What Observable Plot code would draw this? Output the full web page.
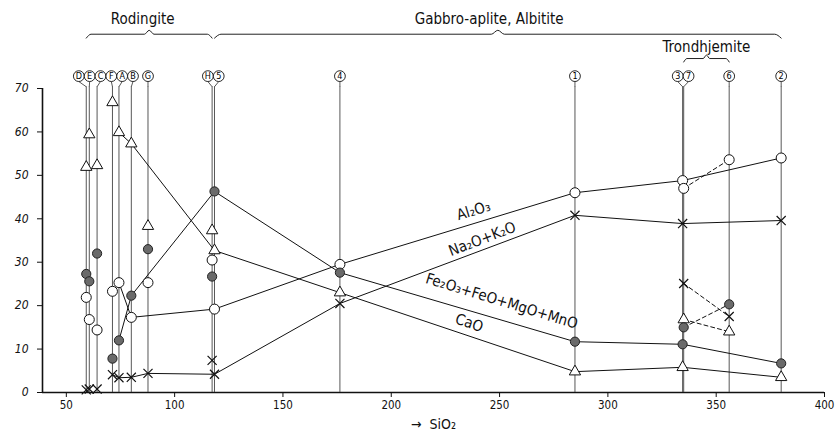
<!DOCTYPE html>
<html>
<head>
<meta charset="utf-8">
<script src="https://cdn.jsdelivr.net/npm/d3@7"></script>
<script src="https://cdn.jsdelivr.net/npm/@observablehq/plot@0.6"></script>
<style>
  body { margin: 0; background: #fff; }
  #chart svg { display: block; }
</style>
</head>
<body>
<div id="chart"></div>
<script>
// ---- data ----
const samples = ["D", "E", "C", "F", "A", "B", "G", "H", "5", "4", "1", "3", "7", "6", "2"];
const sio2    = [59.2, 60.6, 64.2, 71.3, 74.3, 80.0, 87.7, 117.3, 118.4, 176.3, 284.8, 334.5, 335.0, 356.0, 380.0];
const al2o3   = [21.9, 16.8, 14.4, 23.3, 25.3, 17.3, 25.3, 30.5, 19.2, 29.5, 46.0, 48.8, 47.0, 53.6, 54.0];
const na2oK2o = [0.6, 0.8, 0.8, 4.1, 3.4, 3.5, 4.4, 7.4, 4.2, 20.5, 40.8, 38.9, 25.1, 17.5, 39.6];
const feMgMn  = [27.3, 25.6, 32.0, 7.8, 12.0, 22.3, 33.0, 26.7, 46.3, 27.6, 11.7, 11.1, 15.0, 20.3, 6.7];
const cao     = [51.9, 59.4, 52.3, 66.8, 59.9, 57.3, 38.3, 37.3, 32.7, 23.0, 4.8, 5.8, 16.8, 14.0, 3.5];

const seriesNames = ["Al₂O₃", "Na₂O+K₂O", "Fe₂O₃+FeO+MgO+MnO", "CaO"];
const mainLine    = ["A", "B", "5", "4", "1", "3", "2"];
const alkaliLine  = ["F", "A", "B", "G", "5", "4", "1", "3", "2"];
const trondLine   = ["7", "6"];

const rodingite    = ["D", "E", "C", "F", "A", "B", "G", "H"];
const gabbroAplite = ["5", "4", "1", "3", "7", "6", "2"];
const trondhjemite = ["7", "6"];
const groupNames   = ["Rodingite", "Gabbro-aplite, Albitite", "Trondhjemite"];

const xTicks = [50, 100, 150, 200, 250, 300, 350, 400];
const yTicks = [0, 10, 20, 30, 40, 50, 60, 70];
const axisTitle = "→  SiO₂";

// ---- build tables ----
const valuesBySeries = [al2o3, na2oK2o, feMgMn, cao];
const rows = [];
samples.forEach((s, i) => valuesBySeries.forEach((vals, k) => {
  rows.push({sample: s, x: sio2[i], series: seriesNames[k], value: vals[i]});
}));
const get = (s, series) => rows.find(r => r.sample === s && r.series === series);
const pathRows = (names, series) => names.map(n => get(n, series));

const solidRows = [];
seriesNames.forEach((sn, k) => {
  const seq = k === 1 ? alkaliLine : mainLine;
  solidRows.push(...pathRows(seq, sn));
});
const dashedRows = [];
seriesNames.forEach(sn => dashedRows.push(...pathRows(trondLine, sn)));

// label dodge (in data units) so the circled labels do not overlap
const sampleTable = samples.map((s, i) => ({sample: s, x: sio2[i]}));
function dodge(xs, s) {
  let clusters = xs.map((x, i) => ({idx: [i], center: x}));
  let changed = true;
  while (changed) {
    changed = false;
    for (let k = 0; k < clusters.length - 1; k++) {
      const a = clusters[k], b = clusters[k + 1];
      const aR = a.center + (a.idx.length - 1) * s / 2;
      const bL = b.center - (b.idx.length - 1) * s / 2;
      if (bL - aR < s) {
        const idx = a.idx.concat(b.idx);
        clusters.splice(k, 2, {idx, center: d3.mean(idx, i => xs[i])});
        changed = true;
        break;
      }
    }
  }
  const out = [];
  for (const c of clusters) c.idx.forEach((i, j) => out[i] = c.center + (j - (c.idx.length - 1) / 2) * s);
  return out;
}
const lx = dodge(sio2, 5.0);
sampleTable.forEach((d, i) => d.lx = lx[i]);

// braces
function brace(names, level, depth, shoulder) {
  const xs = names.map(n => sio2[samples.indexOf(n)]);
  const x1 = d3.min(xs), x2 = d3.max(xs), xc = (x1 + x2) / 2;
  return [
    {x: x1, y: level - depth}, {x: x1 + shoulder, y: level},
    {x: xc - shoulder, y: level}, {x: xc, y: level + depth},
    {x: xc + shoulder, y: level}, {x: x2 - shoulder, y: level},
    {x: x2, y: level - depth}
  ].map(p => ({...p, cx: xc}));
}
const braceUpper = 82.5, braceLower = 76.9;
const braces = [
  {name: groupNames[0], pts: brace(rodingite, braceUpper, 0.9, 2.2), ty: 85.9, shift: -3},
  {name: groupNames[1], pts: brace(gabbroAplite, braceUpper, 0.9, 3), ty: 85.9, shift: -4},
  {name: groupNames[2], pts: brace(trondhjemite, braceLower, 0.8, 1.5), ty: 79.5, shift: 0}
];

// series labels along the lines
function interp(series, xv) {
  const seq = pathRows(mainLine, series);
  for (let i = 0; i < seq.length - 1; i++) {
    const a = seq[i], b = seq[i + 1];
    if (xv >= a.x && xv <= b.x) return a.value + (b.value - a.value) * (xv - a.x) / (b.x - a.x);
  }
  return NaN;
}
const labelStyle = [
  {series: seriesNames[0], at: 238, dy: -13, rotate: -17},
  {series: seriesNames[1], at: 242, dy: -11, rotate: -21},
  {series: seriesNames[2], at: 251, dy: -19, rotate: 17},
  {series: seriesNames[3], at: 236, dy: -13, rotate: 19}
];
const seriesLabels = labelStyle.map(d => ({...d, x: d.at, y: interp(d.series, d.at)}));

const font = "'Liberation Sans Narrow','DejaVu Sans Condensed','Arial Narrow',sans-serif";
const by = name => rows.filter(r => r.series === name);

const marks = [
  // axes lines
  Plot.ruleY([0], {stroke: "#111", strokeWidth: 1.3}),
  Plot.ruleX([39], {y1: 0, y2: 70, stroke: "#111", strokeWidth: 1.6}),
  Plot.axisX({ticks: xTicks, tickSize: 5, tickPadding: 3, fontSize: 11.5, label: null, fontFamily: font}),
  Plot.axisY({ticks: yTicks, tickSize: 5, tickPadding: 9, fontSize: 12, label: null, fontStyle: "italic", fontFamily: font}),
  Plot.text([axisTitle], {frameAnchor: "bottom", dy: 36, lineAnchor: "bottom", fontSize: 14, fontFamily: font}),
  // sample verticals
  Plot.ruleX(sampleTable, {x: "x", y1: 0, y2: 70.4, stroke: "#444", strokeWidth: 0.9}),
  Plot.link(sampleTable, {x1: "x", y1: 70.4, x2: "lx", y2: 71.6, stroke: "#444", strokeWidth: 0.9}),
  Plot.dot(sampleTable, {x: "lx", y: 72.85, r: 5.4, fill: "white", stroke: "#111", strokeWidth: 0.9}),
  Plot.text(sampleTable, {x: "lx", y: 72.85, text: "sample", fontSize: 9, fontFamily: "'DejaVu Sans Condensed',sans-serif", fill: "black"}),
  // braces
  ...braces.map(b => Plot.line(b.pts, {x: "x", y: "y", curve: "monotone-x", stroke: "#222", strokeWidth: 1})),
  ...braces.map(b => Plot.text([b], {x: d => d.pts[0].cx + d.shift, y: "ty", text: "name", fontSize: 15, fontFamily: font, fill: "#111"})),
  // data lines
  Plot.line(solidRows, {x: "x", y: "value", z: "series", stroke: "#111", strokeWidth: 1}),
  Plot.line(dashedRows, {x: "x", y: "value", z: "series", stroke: "#111", strokeWidth: 1, strokeDasharray: "4,3"}),
  // markers
  Plot.dot(by(seriesNames[1]), {x: "x", y: "value", symbol: "times", r: 4.2, stroke: "#111", strokeWidth: 1.2}),
  Plot.dot(by(seriesNames[3]), {x: "x", y: "value", symbol: "triangle", r: 4.2, fill: "white", stroke: "#111", strokeWidth: 1}),
  Plot.dot(by(seriesNames[0]), {x: "x", y: "value", r: 5, fill: "white", stroke: "#111", strokeWidth: 1}),
  Plot.dot(by(seriesNames[2]), {x: "x", y: "value", r: 4.6, fill: "#6a6a6a", stroke: "#222", strokeWidth: 1}),
  // series labels (one mark each so that the offset and angle are constants)
  ...seriesLabels.map(d => Plot.text([d], {x: "x", y: "y", dy: d.dy, rotate: d.rotate, text: "series", fontSize: 15, fontFamily: font, fill: "#111"}))
];

const chart = Plot.plot({
  width: 835,
  height: 432,
  marginLeft: 42,
  marginRight: 11,
  marginTop: 88,
  marginBottom: 40,
  x: {domain: [39, 400]},
  y: {domain: [0, 70]},
  style: {background: "white", color: "#111", fontFamily: font},
  marks
});
document.getElementById("chart").appendChild(chart);
</script>
</body>
</html>
